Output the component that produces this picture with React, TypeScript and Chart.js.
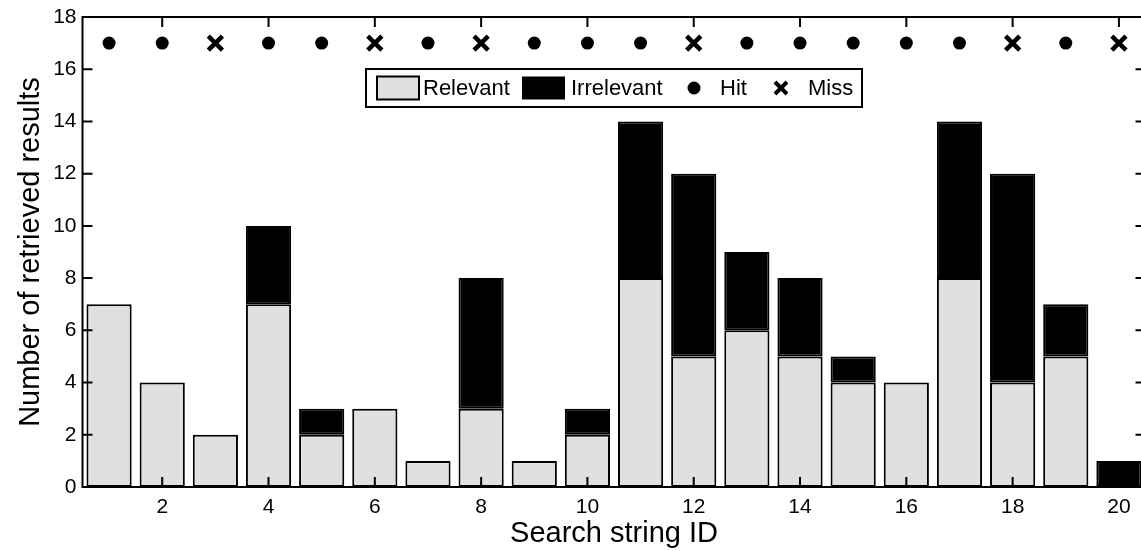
import React, { useEffect, useRef } from "react";
import { Chart, registerables } from "chart.js";

Chart.register(...registerables);

// ---- data ----
const searchIds = [1, 2, 3, 4, 5, 6, 7, 8, 9, 10, 11, 12, 13, 14, 15, 16, 17, 18, 19, 20];
const relevant = [7, 4, 2, 7, 2, 3, 1, 3, 1, 2, 8, 5, 6, 5, 4, 4, 8, 4, 5, 0];
const irrelevant = [0, 0, 0, 3, 1, 0, 0, 5, 0, 1, 6, 7, 3, 3, 1, 0, 6, 8, 2, 1];
const outcome = ["hit", "hit", "miss", "hit", "hit", "miss", "hit", "miss", "hit", "hit", "hit", "miss", "hit", "hit", "hit", "hit", "hit", "miss", "hit", "miss"];
const markerLevel = 17;
const xTickValues = [2, 4, 6, 8, 10, 12, 14, 16, 18, 20];
const yTickValues = [0, 2, 4, 6, 8, 10, 12, 14, 16, 18];
const legendLabels = ["Relevant", "Irrelevant", "Hit", "Miss"];

const FONT = '"Liberation Sans", Arial, Helvetica, sans-serif';
const GRAY = "#e0e0e0";

const framePlugin = {
  id: "frame",
  afterDraw(chart: any) {
    const { ctx, chartArea } = chart;
    const { left, right, top, bottom } = chartArea;
    const xs = chart.scales.x;
    const ys = chart.scales.y;
    ctx.save();
    ctx.strokeStyle = "#000";
    ctx.lineWidth = 2;
    ctx.strokeRect(left, top, right - left, bottom - top);
    ctx.beginPath();
    const tl = 10;
    xTickValues.forEach((v) => {
      const px = xs.getPixelForValue(v);
      ctx.moveTo(px, bottom);
      ctx.lineTo(px, bottom - tl);
      ctx.moveTo(px, top);
      ctx.lineTo(px, top + tl);
    });
    yTickValues.forEach((v) => {
      const py = ys.getPixelForValue(v);
      ctx.moveTo(left, py);
      ctx.lineTo(left + tl, py);
      ctx.moveTo(right, py);
      ctx.lineTo(right - tl, py);
    });
    ctx.stroke();
    ctx.restore();
  },
};

const legendPlugin = {
  id: "boxLegend",
  afterDraw(chart: any) {
    const { ctx, chartArea } = chart;
    const cx = (chartArea.left + chartArea.right) / 2;
    const w = 496;
    const h = 38;
    const L = cx - w / 2;
    const T = 69;
    const cy = T + h / 2;
    ctx.save();
    ctx.fillStyle = "#fff";
    ctx.fillRect(L, T, w, h);
    ctx.strokeStyle = "#000";
    ctx.lineWidth = 2;
    ctx.strokeRect(L, T, w, h);
    // swatch relevant
    ctx.fillStyle = GRAY;
    ctx.fillRect(L + 11, cy - 11.5, 42, 23);
    ctx.strokeRect(L + 11, cy - 11.5, 42, 23);
    // swatch irrelevant
    ctx.fillStyle = "#000";
    ctx.fillRect(L + 156, cy - 11.5, 43, 23);
    // hit dot
    ctx.beginPath();
    ctx.arc(L + 328, cy, 6.5, 0, Math.PI * 2);
    ctx.fill();
    // miss cross
    ctx.lineWidth = 4;
    ctx.beginPath();
    const cxm = L + 415;
    ctx.moveTo(cxm - 6, cy - 6);
    ctx.lineTo(cxm + 6, cy + 6);
    ctx.moveTo(cxm + 6, cy - 6);
    ctx.lineTo(cxm - 6, cy + 6);
    ctx.stroke();
    // labels
    ctx.font = `22px ${FONT}`;
    ctx.textBaseline = "middle";
    ctx.textAlign = "left";
    ctx.fillStyle = "#000";
    ctx.fillText(legendLabels[0], L + 57, cy + 1);
    ctx.fillText(legendLabels[1], L + 205, cy + 1);
    ctx.fillText(legendLabels[2], L + 354, cy + 1);
    ctx.fillText(legendLabels[3], L + 442, cy + 1);
    ctx.restore();
  },
};

export default function App() {
  const ref = useRef<HTMLCanvasElement | null>(null);

  useEffect(() => {
    document.body.style.margin = "0";
    const canvas = ref.current;
    if (!canvas) return;

    const relData = searchIds.map((id, i) => ({ x: id, y: relevant[i] > 0 ? relevant[i] : null }));
    const irrData = searchIds.map((id, i) => ({
      x: id,
      y: irrelevant[i] > 0 ? [relevant[i], relevant[i] + irrelevant[i]] : null,
    }));
    const hitData = searchIds
      .map((id, i) => (outcome[i] === "hit" ? { x: id, y: markerLevel } : null))
      .filter(Boolean);
    const missData = searchIds
      .map((id, i) => (outcome[i] === "miss" ? { x: id, y: markerLevel } : null))
      .filter(Boolean);

    const chart = new Chart(canvas, {
      type: "bar",
      data: {
        datasets: [
          {
            type: "scatter",
            label: "Hit",
            data: hitData as any,
            pointStyle: "circle",
            pointRadius: 6.5,
            pointBackgroundColor: "#000",
            pointBorderColor: "#000",
            pointBorderWidth: 0,
            order: 0,
          },
          {
            type: "scatter",
            label: "Miss",
            data: missData as any,
            pointStyle: "crossRot",
            pointRadius: 10,
            pointBackgroundColor: "#000",
            pointBorderColor: "#000",
            pointBorderWidth: 4.5,
            order: 0,
          },
          {
            type: "bar",
            label: "Irrelevant",
            data: irrData as any,
            backgroundColor: "#000",
            borderColor: "#000",
            borderWidth: 2,
            borderSkipped: false,
            grouped: false,
            barPercentage: 0.85,
            categoryPercentage: 1,
            order: 1,
          },
          {
            type: "bar",
            label: "Relevant",
            data: relData as any,
            backgroundColor: GRAY,
            borderColor: "#000",
            borderWidth: 2,
            borderSkipped: false,
            grouped: false,
            barPercentage: 0.85,
            categoryPercentage: 1,
            order: 2,
          },
        ],
      },
      options: {
        animation: false,
        responsive: false,
        maintainAspectRatio: false,
        layout: { autoPadding: false, padding: { left: 0, top: 17, right: 4.5, bottom: 0 } },
        plugins: {
          legend: { display: false },
          tooltip: { enabled: false },
        },
        scales: {
          x: {
            type: "linear",
            min: 0.5,
            max: 20.5,
            offset: false,
            grid: { display: false, drawTicks: false, offset: false },
            border: { display: false },
            afterBuildTicks: (s: any) => {
              s.ticks = xTickValues.map((v) => ({ value: v }));
            },
            afterFit: (s: any) => {
              s.height = 64;
              s.paddingLeft = 0;
              s.paddingRight = 0;
            },
            ticks: {
              color: "#000",
              font: { family: FONT, size: 21 },
              padding: 8,
              maxRotation: 0,
              autoSkip: false,
            },
            title: {
              display: true,
              text: "Search string ID",
              color: "#000",
              font: { family: FONT, size: 29 },
              padding: { top: 0, bottom: 0 },
            },
          },
          y: {
            type: "linear",
            min: 0,
            max: 18,
            grid: { display: false, drawTicks: false },
            border: { display: false },
            afterBuildTicks: (s: any) => {
              s.ticks = yTickValues.map((v) => ({ value: v }));
            },
            afterFit: (s: any) => {
              s.width = 82.5;
              s.paddingTop = 0;
              s.paddingBottom = 0;
            },
            ticks: {
              color: "#000",
              font: { family: FONT, size: 21 },
              padding: 6,
              autoSkip: false,
            },
            title: {
              display: true,
              text: "Number of retrieved results",
              color: "#000",
              font: { family: FONT, size: 29 },
              padding: { top: 14, bottom: 0 },
            },
          },
        },
      },
      plugins: [framePlugin, legendPlugin],
    });

    return () => chart.destroy();
  }, []);

  return (
    <div style={{ position: "fixed", left: 0, top: 0, width: 1141, height: 551, overflow: "hidden", background: "#fff" }}>
      <canvas ref={ref} width={1150} height={551} style={{ display: "block", width: 1150, height: 551 }} />
    </div>
  );
}
